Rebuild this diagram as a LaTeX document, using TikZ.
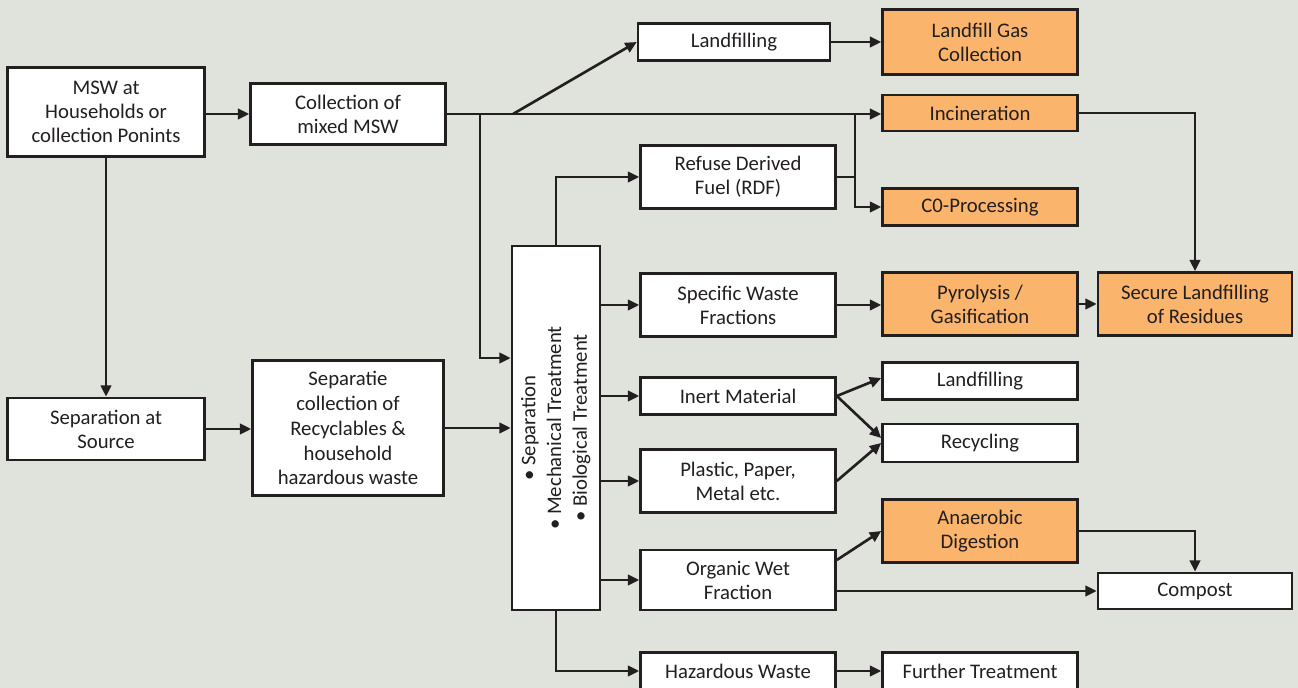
\documentclass[tikz,border=0pt]{standalone}
\usepackage{fontspec}
\usepackage{graphicx}
\setmainfont{Carlito}
\usetikzlibrary{arrows.meta}
\definecolor{bgcol}{HTML}{DFE3DC}
\definecolor{boxorange}{HTML}{FBB46B}
\definecolor{ink}{HTML}{231F20}

\begin{document}
\begin{tikzpicture}[x=0.02cm, y=-0.02cm,
        box/.style={draw=ink, line width=1.5pt, fill=white, text=ink, align=center, inner sep=0pt,
            font=\fontsize{11.8}{13.7}\selectfont, minimum width=3.9cm},
        hot/.style={box, fill=boxorange},
        ln/.style={draw=ink, line width=1.5pt},
        arr/.style={ln, -{Triangle[length=6.5pt, width=6pt]}}]
            \clip (0,0) rectangle (1298,688);
            \fill[bgcol] (0,0) rectangle (1298,688);

            \node[box, minimum width=3.94cm, minimum height=1.78cm] (msw) at (106,112) {MSW at\\Households or\\collection Ponints};
            \node[box, minimum height=1.22cm] (coll) at (348,114) {Collection of\\mixed MSW};
            \node[box, minimum width=3.94cm, minimum height=1.24cm] (src) at (106,429) {Separation at\\Source};
            \node[box, minimum width=3.82cm, minimum height=2.7cm, font=\fontsize{11.8}{14.2}\selectfont] (sepc) at (348,428)
                {Separatie\\collection of\\Recyclables \&\\household\\hazardous waste};

            \node[box, minimum width=1.76cm, minimum height=7.28cm, font=\fontsize{11.8}{14.6}\selectfont] (big) at (556,428)
                {\rotatebox{90}{\begin{tabular}{@{}c@{}}• Separation\\• Mechanical Treatment\\• Biological Treatment\end{tabular}}};

            \node[box, minimum width=3.84cm, minimum height=0.74cm] (lf1) at (734,42) {Landfilling};
            \node[box, minimum height=1.26cm] (rdf) at (738,177) {Refuse Derived\\Fuel (RDF)};
            \node[box, minimum height=1.26cm] (sw) at (738,305) {Specific Waste\\Fractions};
            \node[box, minimum height=0.74cm] (inert) at (738,396) {Inert Material};
            \node[box, minimum height=1.26cm] (ppm) at (738,481) {Plastic, Paper,\\Metal etc.};
            \node[box, minimum height=1.2cm] (ow) at (738,580) {Organic Wet\\Fraction};
            \node[box, minimum height=0.74cm] (haz) at (738,671) {Hazardous Waste};

            \node[hot, minimum height=1.3cm] (lgc) at (980,42) {Landfill Gas\\Collection};
            \node[hot, minimum height=0.72cm] (inc) at (980,113) {Incineration};
            \node[hot, minimum height=0.74cm] (c0) at (980,207) {C0-Processing};
            \node[hot, minimum height=1.26cm] (pyro) at (980,304) {Pyrolysis /\\Gasification};
            \node[box, minimum height=0.74cm] (lf2) at (980,381) {Landfilling};
            \node[box, minimum height=0.76cm] (rec) at (980,443) {Recycling};
            \node[hot, minimum height=1.26cm] (ad) at (980,531) {Anaerobic\\Digestion};
            \node[box, minimum height=0.74cm] (ft) at (980,671) {Further Treatment};

            \node[hot, minimum width=3.88cm, minimum height=1.26cm] (sec) at (1195,304) {Secure Landfilling\\of Residues};
            \node[box, minimum width=3.88cm, minimum height=0.72cm] (comp) at (1195,591) {Compost};

            \coordinate (jd) at (480,114);
            \coordinate (jl) at (513,114);
            \coordinate (jr) at (855,114);

            \draw[arr] (msw.east |- coll) -- (coll.west);
            \draw[arr] (msw) -- (src);
            \draw[arr] (src.east) -- (src.east -| sepc.west);
            \draw[arr] (sepc.east) -- (sepc.east -| big.west);

            \draw[arr] (coll.east) -- (coll.east -| inc.west);
            \draw[arr] (jl) -- (lf1.west);
            \draw[arr] (jd) |- ([yshift=1.4cm]big.west);
            \draw[ln] (rdf.east) -| (jr);
            \draw[arr] (jr) |- (c0.west);

            \draw[arr] (big.north) |- (rdf.west);
            \draw[arr] (big.east |- sw.west) -- (sw.west);
            \draw[arr] (big.east |- inert.west) -- (inert.west);
            \draw[arr] (big.east |- ppm.west) -- (ppm.west);
            \draw[arr] (big.east |- ow.west) -- (ow.west);
            \draw[arr] (big.south) |- (haz.west);

            \draw[arr] (lf1) -- (lgc);
            \draw[arr] (inc.east) -| (sec.north);
            \draw[arr] (sw.east) -- (sw.east -| pyro.west);
            \draw[arr] (pyro) -- (sec);
            \draw[arr] (inert.east) -- ([yshift=0.6mm]lf2.west);
            \draw[arr] (inert.east) -- ([yshift=1mm]rec.west);
            \draw[arr] (ppm.east) -- (rec.west);
            \draw[arr] ([yshift=4mm]ow.east) -- (ad.west);
            \draw[arr] (ow.east |- comp.west) -- (comp.west);
            \draw[arr] (ad.east) -| (comp.north);
            \draw[arr] (haz) -- (ft);
        \end{tikzpicture}
\end{document}
